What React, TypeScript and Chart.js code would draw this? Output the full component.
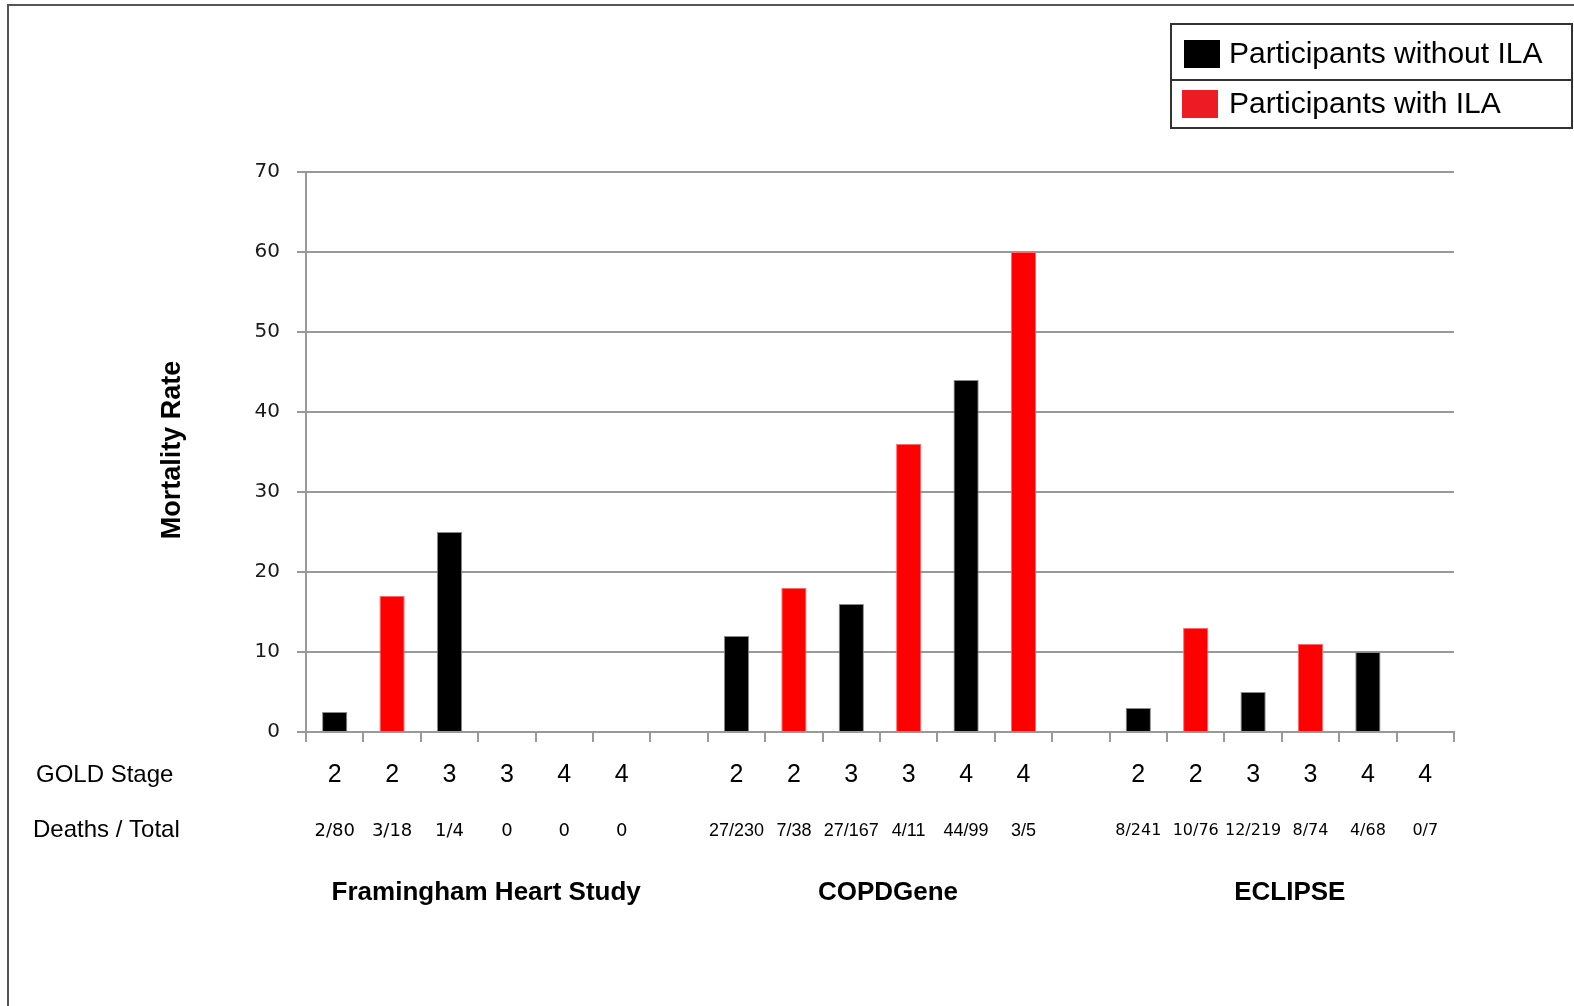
import React, { useEffect, useRef } from "react";
import { Chart, registerables } from "chart.js";

Chart.register(...registerables);

// ---- data ----
const goldStage = ["2", "2", "3", "3", "4", "4", "", "2", "2", "3", "3", "4", "4", "", "2", "2", "3", "3", "4", "4"];
const deathsTotal = ["2/80", "3/18", "1/4", "0", "0", "0", "", "27/230", "7/38", "27/167", "4/11", "44/99", "3/5", "", "8/241", "10/76", "12/219", "8/74", "4/68", "0/7"];
const studies = ["Framingham Heart Study", "COPDGene", "ECLIPSE"];
const studyFirstIndex = [0, 7, 14];
const studyLastIndex = [5, 12, 19];
const withoutILA = [2.5, null, 25, null, 0, null, null, 12, null, 16, null, 44, null, null, 3, null, 5, null, 10, null];
const withILA = [null, 17, null, 0, null, 0, null, null, 18, null, 36, null, 60, null, null, 13, null, 11, null, 0];
const yTicks = [0, 10, 20, 30, 40, 50, 60, 70];
const seriesNames = ["Participants without ILA", "Participants with ILA"];
const legendColors = ["#000000", "#ED1C24"];

const W = 1574;
const H = 1006;

const overlayPlugin = {
  id: "overlay",
  beforeDraw(chart: any) {
    const ctx = chart.ctx;
    ctx.save();
    ctx.fillStyle = "#ffffff";
    ctx.fillRect(0, 0, chart.width, chart.height);
    ctx.restore();
  },
  afterDraw(chart: any) {
    const ctx = chart.ctx;
    const x = chart.scales.x;
    const area = chart.chartArea;
    ctx.save();

    // outer frame
    ctx.strokeStyle = "#555555";
    ctx.lineWidth = 2;
    ctx.strokeRect(8, 5, W + 20, H + 20);

    // y axis title
    ctx.save();
    ctx.translate(173, (area.top + area.bottom) / 2 - 2);
    ctx.rotate(-Math.PI / 2);
    ctx.fillStyle = "#000";
    ctx.font = "bold 27px 'Liberation Sans', Arial, sans-serif";
    ctx.textAlign = "center";
    ctx.textBaseline = "middle";
    ctx.fillText("Mortality Rate", 0, 0);
    ctx.restore();

    // row headers
    ctx.fillStyle = "#000";
    ctx.textAlign = "left";
    ctx.textBaseline = "middle";
    ctx.font = "24px 'Liberation Sans', Arial, sans-serif";
    ctx.fillText("GOLD Stage", 36, 775);
    ctx.fillText("Deaths / Total", 33, 830);

    // deaths / total row
    ctx.textAlign = "center";
    deathsTotal.forEach((t, i) => {
      if (!t) return;
      if (i < 7) ctx.font = "18px 'DejaVu Sans', sans-serif";
      else if (i < 14) ctx.font = "18px 'Liberation Sans', Arial, sans-serif";
      else ctx.font = "16px 'DejaVu Sans', sans-serif";
      ctx.fillText(t, x.getPixelForValue(i), 831);
    });

    // study names
    ctx.font = "bold 26px 'Liberation Sans', Arial, sans-serif";
    studies.forEach((s, k) => {
      const cx = (x.getPixelForValue(studyFirstIndex[k]) + x.getPixelForValue(studyLastIndex[k])) / 2 + 8;
      ctx.fillText(s, cx, 893);
    });

    // legend box
    const lx = 1171, ly = 24, lw = W - 1171 - 2, rowH = 52;
    ctx.fillStyle = "#fff";
    ctx.fillRect(lx, ly, lw, rowH * 2);
    ctx.strokeStyle = "#333";
    ctx.lineWidth = 2;
    ctx.strokeRect(lx, ly, lw, rowH * 2);
    ctx.beginPath();
    ctx.moveTo(lx, ly + 56);
    ctx.lineTo(lx + lw, ly + 56);
    ctx.stroke();
    ctx.font = "30px 'Liberation Sans', Arial, sans-serif";
    ctx.textAlign = "left";
    ctx.textBaseline = "middle";
    const rowsY = [54, 104];
    seriesNames.forEach((n, i) => {
      ctx.fillStyle = legendColors[i];
      ctx.fillRect(1184 - i * 2, rowsY[i] - 14, 36, 28);
      ctx.fillStyle = "#000";
      ctx.fillText(n, 1229, rowsY[i] + 1);
    });

    ctx.restore();
  },
};

export default function App() {
  const ref = useRef<HTMLCanvasElement | null>(null);

  useEffect(() => {
    document.body.style.margin = "0";
    const canvas = ref.current;
    if (!canvas) return;
    const chart = new Chart(canvas, {
      type: "bar",
      data: {
        labels: goldStage,
        datasets: [
          {
            label: seriesNames[0],
            data: withoutILA as any,
            backgroundColor: "#000000",
            borderColor: "#8a8a8a",
            borderWidth: 1,
            grouped: false,
            barPercentage: 0.44,
            categoryPercentage: 1,
          } as any,
          {
            label: seriesNames[1],
            data: withILA as any,
            backgroundColor: "#FF0000",
            borderColor: "#ff6a6a",
            borderWidth: 1,
            grouped: false,
            barPercentage: 0.44,
            categoryPercentage: 1,
          } as any,
        ],
      },
      options: {
        animation: false,
        responsive: false,
        devicePixelRatio: 1,
        layout: { padding: { left: 0, top: 172, right: 120, bottom: 0 } },
        plugins: {
          legend: { display: false },
          tooltip: { enabled: false },
        },
        scales: {
          x: {
            offset: true,
            grid: {
              display: true,
              drawOnChartArea: false,
              drawTicks: true,
              tickLength: 10,
              color: "#999999",
              lineWidth: 2,
              offset: true,
            },
            border: { display: true, color: "#999999", width: 2 },
            ticks: {
              autoSkip: false,
              maxRotation: 0,
              minRotation: 0,
              padding: 18,
              color: "#000",
              font: { family: "'Liberation Sans', Arial, sans-serif", size: 25 },
            },
            afterFit: (s: any) => {
              s.height = H - 732;
            },
          },
          y: {
            min: 0,
            max: 70,
            afterBuildTicks: (s: any) => {
              s.ticks = yTicks.map((v) => ({ value: v }));
            },
            grid: {
              color: "#999999",
              lineWidth: 2,
              drawTicks: true,
              tickLength: 9,
            },
            border: { display: true, color: "#999999", width: 2 },
            ticks: {
              padding: 17,
              color: "#1a1a1a",
              font: { family: "'DejaVu Sans', sans-serif", size: 20 },
            },
            afterFit: (s: any) => {
              s.width = 306;
            },
          },
        },
      },
      plugins: [overlayPlugin],
    });
    return () => chart.destroy();
  }, []);

  return <canvas ref={ref} width={W} height={H} style={{ display: "block", width: W, height: H }} />;
}
